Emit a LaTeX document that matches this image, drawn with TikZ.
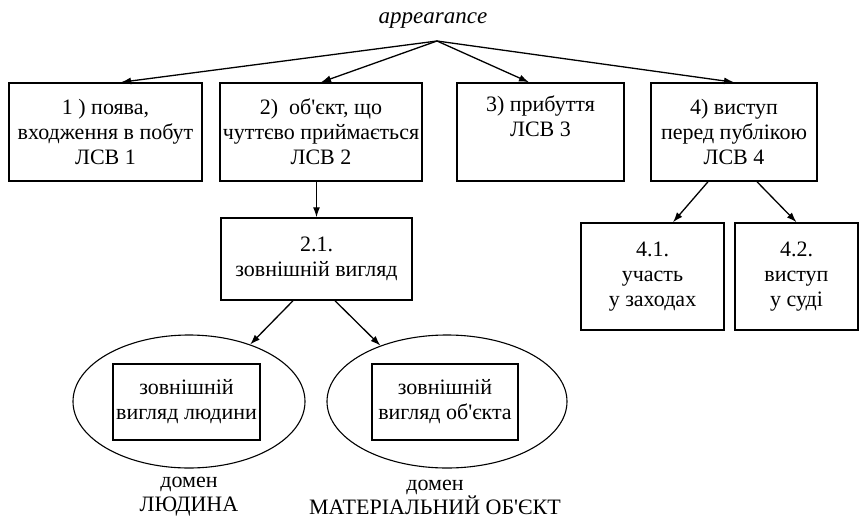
\documentclass[tikz,border=0pt]{standalone}
\usepackage{fontspec}
\setmainfont{Liberation Serif}[Ligatures=TeXOff]
\usetikzlibrary{arrows.meta,positioning,shapes}

\begin{document}
\begin{tikzpicture}[x=1pt,y=-1pt,
  font=\fontsize{22}{25}\selectfont,
  box/.style={draw,line width=1.5pt,align=center,inner sep=0pt},
  domainoval/.style={draw,ellipse,line width=1.1pt,minimum height=133pt},
  arr/.style={-{Latex[length=10pt,width=7pt]},line width=1.3pt}]
\useasboundingbox (0,0) rectangle (860,520);
\node[font=\fontsize{23}{25}\selectfont\itshape] (app) at (433,21) {appearance};
\coordinate (top) at (437,41);
% top level
\node[box,minimum width=193pt,minimum height=98pt] (b1) at (105.5,132) {1 ) поява,\\входження в побут\\ЛСВ 1};
\node[box,minimum width=202pt,minimum height=98pt] (b2) at (321,132) {2)~ об'єкт, що\\чуттєво приймається\\ЛСВ 2};
\node[box,minimum width=167pt,minimum height=98pt] (b3) at (540.5,132) {3) прибуття\\ЛСВ 3\\\strut};
\node[box,minimum width=166pt,minimum height=98pt] (b4) at (734,132) {4) виступ\\перед публікою\\ЛСВ 4};
\draw[arr] (top) -- ([xshift=15.5pt]b1.north);
\draw[arr] (top) -- (b2.north);
\draw[arr] (top) -- ([xshift=-11.5pt]b3.north);
\draw[arr] (top) -- (b4.north);
% second level
\node[box,minimum width=191pt,minimum height=82pt] (b21) at (316.5,259) {2.1.\\зовнішній вигляд};
\node[box,minimum width=143pt,minimum height=107pt] (b41) at (652.5,276.5) {4.1.\\участь\\у заходах};
\node[box,minimum width=123pt,minimum height=107pt] (b42) at (796.5,276.5) {4.2.\\виступ\\у суді};
\draw[arr] (b2.south -| b21.north) -- (b21.north);
\draw[arr] ([xshift=-26pt]b4.south) -- ([xshift=20.5pt]b41.north);
\draw[arr] ([xshift=23pt]b4.south) -- (b42.north);
% domains
\node[domainoval,minimum width=232pt] (e1) at (189,401.5) {};
\node[domainoval,minimum width=240pt] (e2) at (447,401.5) {};
\node[box,line width=2pt,minimum width=147pt,minimum height=76pt] (i1) at (186.5,402) {зовнішній\\вигляд людини};
\node[box,line width=2pt,minimum width=146pt,minimum height=76pt] (i2) at (445,402) {зовнішній\\вигляд об'єкта};
\draw[arr] ([xshift=-23.5pt]b21.south) -- (e1.43);
\draw[arr] ([xshift=18.5pt]b21.south) -- (e2.140);
\node[align=center,font=\fontsize{22}{24}\selectfont] (d1) at (189,497) {домен\\ЛЮДИНА};
\node[align=center,font=\fontsize{22}{24}\selectfont] (d2) at (435,497) {домен\\МАТЕРІАЛЬНИЙ ОБ'ЄКТ};
\end{tikzpicture}
\end{document}
